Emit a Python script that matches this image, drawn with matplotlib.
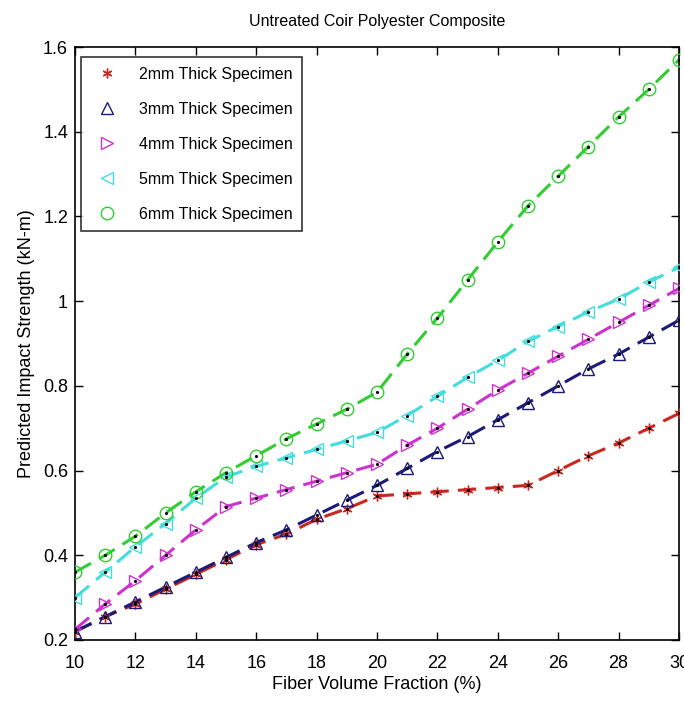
import matplotlib
matplotlib.use("Agg")
import matplotlib.pyplot as plt
from matplotlib import font_manager

fiber = list(range(10, 31))
s2mm = [0.22, 0.255, 0.285, 0.32, 0.355, 0.39, 0.425, 0.45, 0.485, 0.51, 0.54,
        0.545, 0.55, 0.555, 0.56, 0.565, 0.60, 0.635, 0.665, 0.70, 0.735]
s3mm = [0.22, 0.255, 0.29, 0.325, 0.36, 0.395, 0.43, 0.46, 0.495, 0.53, 0.565,
        0.605, 0.645, 0.68, 0.72, 0.76, 0.80, 0.84, 0.875, 0.915, 0.955]
s4mm = [0.225, 0.285, 0.34, 0.40, 0.46, 0.515, 0.535, 0.555, 0.575, 0.595, 0.615,
        0.66, 0.70, 0.745, 0.79, 0.83, 0.87, 0.91, 0.95, 0.99, 1.03]
s5mm = [0.30, 0.36, 0.42, 0.475, 0.535, 0.585, 0.61, 0.63, 0.65, 0.67, 0.69,
        0.73, 0.775, 0.82, 0.86, 0.905, 0.94, 0.975, 1.005, 1.045, 1.08]
s6mm = [0.36, 0.40, 0.445, 0.50, 0.55, 0.595, 0.635, 0.675, 0.71, 0.745, 0.785,
        0.875, 0.96, 1.05, 1.14, 1.225, 1.295, 1.365, 1.435, 1.50, 1.57]
labels = ["2mm Thick Specimen", "3mm Thick Specimen", "4mm Thick Specimen",
          "5mm Thick Specimen", "6mm Thick Specimen"]
xticks = [10, 12, 14, 16, 18, 20, 22, 24, 26, 28, 30]
yticks = [0.2, 0.4, 0.6, 0.8, 1.0, 1.2, 1.4, 1.6]
ytick_labels = ["0.2", "0.4", "0.6", "0.8", "1", "1.2", "1.4", "1.6"]

series = [s2mm, s3mm, s4mm, s5mm, s6mm]
markers = [(6, 2, 0), "^", ">", "<", "o"]
msizes = [7, 9, 9, 9, 9]
colors = ["#c8281e", "#1c1c78", "#cc33cc", "#44dddd", "#33cc33"]

names = {f.name for f in font_manager.fontManager.ttflist}
fam = "Liberation Sans Narrow" if "Liberation Sans Narrow" in names else "Liberation Sans"
plt.rcParams["font.family"] = [fam, "DejaVu Sans"]

fig = plt.figure(figsize=(6.84, 7.04), dpi=100)
ax = fig.add_axes([75/684, 1 - 640/704, (679-75)/684, (640-47)/704])

handles = []
for ys, m, ms, c, lab in zip(series, markers, msizes, colors, labels):
    ax.plot(fiber, ys, linestyle=(0, (6, 3)), color=c, linewidth=2.2, zorder=2)
    h, = ax.plot(fiber, ys, linestyle="none", marker=m, markersize=ms,
                 markerfacecolor="none", markeredgecolor=c, markeredgewidth=1.0,
                 label=lab, zorder=3)
    ax.plot(fiber, ys, linestyle="none", marker=".", markersize=2.5, color="black", zorder=4)
    handles.append(h)

ax.set_xlim(10, 30)
ax.set_ylim(0.2, 1.6)
ax.set_xticks(xticks)
ax.set_yticks(yticks)
ax.set_yticklabels(ytick_labels)
ax.tick_params(direction="in", top=True, right=True, labelsize=13, length=6, width=1)
ax.tick_params(axis="x", pad=11)
ax.tick_params(axis="y", pad=5)
for sp in ax.spines.values():
    sp.set_linewidth(1.2)

ax.set_title("Untreated Coir Polyester Composite", fontsize=11.5, pad=15)
ax.set_xlabel("Fiber Volume Fraction (%)", fontsize=13, labelpad=3)
ax.set_ylabel("Predicted Impact Strength (kN-m)", fontsize=13, labelpad=6)

leg = ax.legend(handles=handles, loc="upper left", fontsize=11.5, frameon=True,
                fancybox=False, edgecolor="black", borderpad=0.6, handletextpad=1.0,
                labelspacing=1.25, borderaxespad=0, bbox_to_anchor=(0.01, 0.983))
leg.get_frame().set_linewidth(1.2)

fig.savefig("out.png", dpi=100)
